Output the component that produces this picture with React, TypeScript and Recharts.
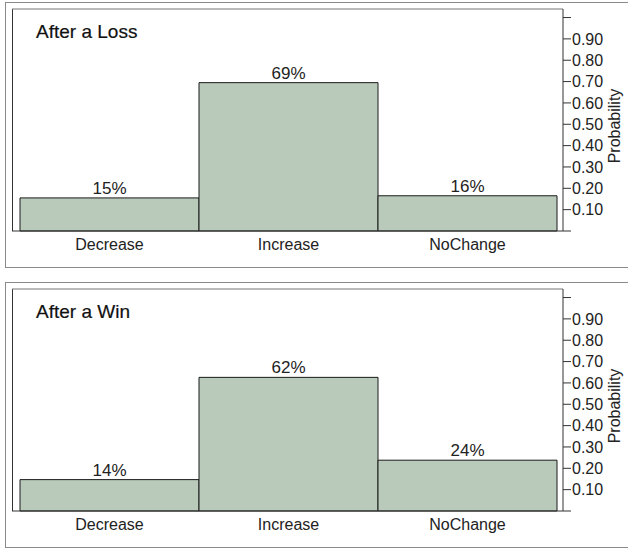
import { BarChart, Bar, XAxis, YAxis, LabelList, ReferenceLine } from "recharts";

const categories = ["Decrease", "Increase", "NoChange"];
const lossValues = [0.155, 0.695, 0.165];
const lossLabels = ["15%", "69%", "16%"];
const winValues = [0.147, 0.626, 0.238];
const winLabels = ["14%", "62%", "24%"];
const yTicks = [0, 0.1, 0.2, 0.3, 0.4, 0.5, 0.6, 0.7, 0.8, 0.9, 1.0];

const FONT = "'Liberation Sans', Arial, Helvetica, sans-serif";
const TEXT = "#222";
const FILL = "#b9cabb";
const YMAX = 1.04;

function Panel({ title, values, labels, top }: { title: string; values: number[]; labels: string[]; top: number }) {
  const data = categories.map((name, i) => ({ name, value: values[i], label: labels[i] }));
  return (
    <div style={{ position: "absolute", left: 0, top, width: 628, height: 270 }}>
      <div
        style={{
          position: "absolute",
          left: 5,
          top: 2,
          width: 700,
          height: 264,
          border: "1px solid #8a8a8a",
        }}
      />
      <div style={{ position: "absolute", left: 12, top: 9, width: 1, height: 222, background: "#333" }} />
      <div
        style={{
          position: "absolute",
          left: 36,
          top: 21,
          fontFamily: FONT,
          fontSize: 19,
          color: "#111",
          WebkitTextStroke: "0.2px #111",
          whiteSpace: "nowrap",
        }}
      >
        {title}
      </div>
      <div style={{ position: "absolute", left: 0, top: 0 }}>
        <BarChart
          width={628}
          height={270}
          data={data}
          margin={{ top: 9, left: 12, right: 0, bottom: 0 }}
          barCategoryGap={0}
        >
          <ReferenceLine y={YMAX} stroke="#777" strokeWidth={1} />
          <XAxis
            dataKey="name"
            height={39}
            padding={{ left: 8, right: 6 }}
            tickLine={false}
            axisLine={{ stroke: "#333" }}
            tick={{ fill: TEXT, fontSize: 16, fontFamily: FONT }}
            interval={0}
          />
          <YAxis
            orientation="right"
            width={65}
            domain={[0, YMAX]}
            ticks={yTicks}
            interval={0}
            tickSize={8}
            tickMargin={1}
            tickFormatter={(v: number) => (v === 0 || v === 1 ? "" : v.toFixed(2))}
            axisLine={{ stroke: "#333" }}
            tickLine={{ stroke: "#333" }}
            tick={{ fill: TEXT, fontSize: 16, fontFamily: FONT }}
            label={{
              content: (props: any) => {
                const vb = props.viewBox || { x: 563, y: 9, width: 65, height: 222 };
                const cx = vb.x + 51;
                const cy = vb.y + vb.height / 2 + 6;
                return (
                  <text
                    x={cx}
                    y={cy}
                    transform={`rotate(-90 ${cx} ${cy})`}
                    textAnchor="middle"
                    dominantBaseline="central"
                    fill={TEXT}
                    fontSize={16}
                    fontFamily={FONT}
                  >
                    Probability
                  </text>
                );
              },
            }}
          />
          <Bar dataKey="value" fill={FILL} stroke="#1a1a1a" strokeWidth={1} isAnimationActive={false}>
            <LabelList dataKey="label" position="top" offset={4} fill={TEXT} fontSize={17} fontFamily={FONT} />
          </Bar>
        </BarChart>
      </div>
    </div>
  );
}

export default function App() {
  return (
    <div style={{ position: "absolute", left: 0, top: 0, width: 628, height: 548, overflow: "hidden", background: "#fff" }}>
      <Panel title="After a Loss" values={lossValues} labels={lossLabels} top={0} />
      <Panel title="After a Win" values={winValues} labels={winLabels} top={280} />
    </div>
  );
}
